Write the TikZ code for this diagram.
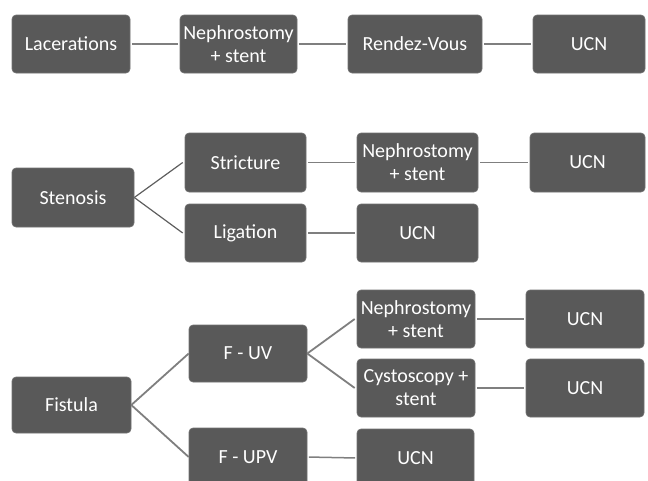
\documentclass[tikz,border=0pt]{standalone}
\usepackage{fontspec}
\setmainfont{Carlito}
\definecolor{boxfill}{HTML}{595959}
\definecolor{linegray}{HTML}{7F7F7F}
\definecolor{fangray}{HTML}{5E5E5E}
\begin{document}
\begin{tikzpicture}[x=1pt,y=-1pt,
  box/.style={draw=boxfill!85!white,line width=0.6pt,fill=boxfill,rounded corners=4pt,text=white,
    align=center,inner sep=0pt,font=\fontsize{20}{23}\selectfont},
  conn/.style={draw=linegray,line width=1.5pt,shorten >=1.5pt,shorten <=1.5pt},
  fan/.style={draw=fangray,line width=1.2pt},
  fanl/.style={draw=linegray,line width=1.8pt}]
\useasboundingbox (0,0) rectangle (648,480);
\clip (0,0) rectangle (648,480);
% Row 1
\node[box,minimum width=118pt,minimum height=58pt] (lac) at (71,44) {Lacerations};
\node[box,minimum width=117pt,minimum height=58pt] (neph1) at (238.5,44) {Nephrostomy\\+ stent};
\node[box,minimum width=134pt,minimum height=58pt] (rdv) at (415,44) {Rendez-Vous};
\node[box,minimum width=112pt,minimum height=58pt] (ucn1) at (589,44) {UCN};
\draw[conn] (lac.east) -- (neph1.west);
\draw[conn] (neph1.east) -- (rdv.west);
\draw[conn] (rdv.east) -- (ucn1.west);
% Row 2
\node[box,minimum width=122pt,minimum height=59pt] (sten) at (73,197.5) {Stenosis};
\node[box,minimum width=121pt,minimum height=59pt] (stric) at (245.5,162.5) {Stricture};
\node[box,minimum width=121pt,minimum height=59pt] (neph2) at (417.5,162.5) {Nephrostomy\\+ stent};
\node[box,minimum width=115pt,minimum height=59pt] (ucn2) at (587.5,162.5) {UCN};
\node[box,minimum width=121pt,minimum height=58pt] (lig) at (245.5,233) {Ligation};
\node[box,minimum width=121pt,minimum height=58pt] (ucn3) at (417.5,233) {UCN};
\draw[fan] (sten.east) -- ([xshift=-2pt]stric.west);
\draw[fan] (sten.east) -- ([xshift=-2pt]lig.west);
\draw[conn] (stric.east) -- (neph2.west);
\draw[conn] (neph2.east) -- (ucn2.west);
\draw[conn] (lig.east) -- (ucn3.west);
% Row 3
\node[box,minimum width=119pt,minimum height=56pt] (fist) at (71.5,405) {Fistula};
\node[box,minimum width=118pt,minimum height=57pt] (fuv) at (248,353.5) {F - UV};
\node[box,minimum width=118pt,minimum height=58pt] (fupv) at (248,457) {F - UPV};
\node[box,minimum width=118pt,minimum height=58pt] (neph3) at (416,319) {Nephrostomy\\+ stent};
\node[box,minimum width=118pt,minimum height=58pt] (cyst) at (416,388) {Cystoscopy +\\stent};
\node[box,minimum width=118pt,minimum height=58pt] (ucn4) at (585,319) {UCN};
\node[box,minimum width=118pt,minimum height=58pt] (ucn5) at (585,388) {UCN};
\node[box,minimum width=117pt,minimum height=58pt] (ucn6) at (415.5,458) {UCN};
\draw[fanl] (fist.east) -- (fuv.west);
\draw[fanl] (fist.east) -- (fupv.west);
\draw[fanl] (fuv.east) -- ([xshift=-2pt]neph3.west);
\draw[fanl] (fuv.east) -- ([xshift=-2pt]cyst.west);
\draw[conn] (neph3.east) -- (ucn4.west);
\draw[conn] (cyst.east) -- (ucn5.west);
\draw[conn] (fupv.east) -- (ucn6.west);
\end{tikzpicture}
\end{document}
